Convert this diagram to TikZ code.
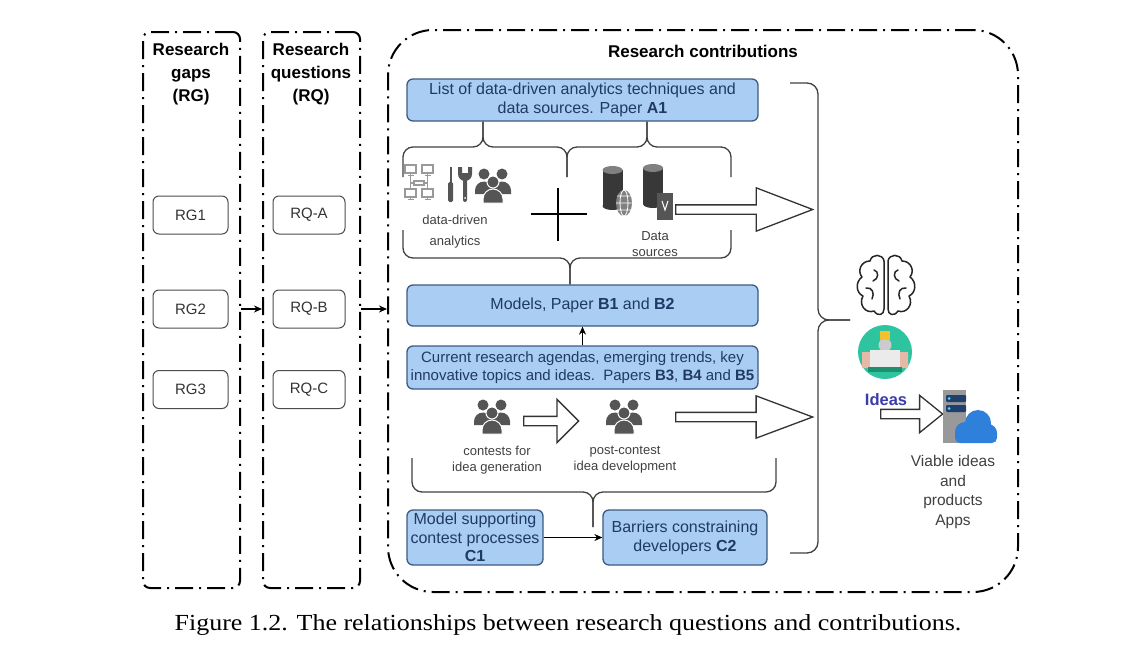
\documentclass[tikz,border=0pt]{standalone}
\usepackage{fontspec}
\setmainfont{Liberation Sans}
\newfontfamily\capfont{Liberation Serif}
\usetikzlibrary{arrows.meta,shapes.arrows,positioning}

\definecolor{boxblue}{HTML}{A9CDF3}
\definecolor{boxline}{HTML}{3D5A80}
\definecolor{boxtext}{HTML}{1F3A66}
\definecolor{icongray}{HTML}{555555}
\definecolor{ideateal}{HTML}{2EC4A0}
\definecolor{ideagreen}{HTML}{1E9070}
\definecolor{ideablue}{HTML}{3C3CA8}
\definecolor{bulbyellow}{HTML}{F5C02E}
\definecolor{skinpink}{HTML}{E6B8A8}
\definecolor{cloudblue}{HTML}{2F80DA}
\definecolor{slotblue}{HTML}{1F3F6F}
\definecolor{slotcyan}{HTML}{5ED3F3}

\tikzset{
  dashframe/.style={draw, line width=2pt, dash pattern=on 18pt off 6pt on 2pt off 6pt},
  gapbox/.style={draw=black!70, line width=1pt, rounded corners=6pt, minimum width=75pt,
    minimum height=38pt, font=\fontsize{15}{18}\selectfont, text=black!80},
  contrib/.style={draw=boxline, fill=boxblue, line width=1.3pt, rounded corners=6pt,
    text=boxtext, align=center, font=\fontsize{16}{19}\selectfont, inner sep=0pt},
  heading/.style={align=center, font=\bfseries\fontsize{17}{23}\selectfont},
  small/.style={align=center, font=\fontsize{13}{16}\selectfont, text=black!75},
  bracket/.style={draw=black!75, line width=1.3pt, rounded corners=10pt},
  hollow/.style={single arrow, draw=black!80, line width=1.3pt, fill=white,
    inner xsep=0pt, inner ysep=4pt, anchor=west},
  link/.style={-{Stealth[length=8pt,width=7pt]}, line width=1.2pt},
  network/.pic={
    \foreach \mx/\my in {-8.5/-12, 8.5/-12, -8.5/12, 8.5/12} {
      \draw[black!40, line width=1.1pt] (\mx-5.5,\my-6) rectangle (\mx+5.5,\my+2);
      \draw[black!40, line width=1.1pt] (\mx,\my+2) -- (\mx,\my+4) (\mx-3,\my+4.5) -- (\mx+3,\my+4.5);
    }
    \draw[black!40, line width=1.1pt] (-5,-2) rectangle (5,2);
    \draw[black!40, line width=1.1pt] (-8.5,-7) -- (-8.5,6) (8.5,-7) -- (8.5,6)
      (-8.5,0) -- (-5,0) (5,0) -- (8.5,0);
  },
  tools/.pic={
    \fill[icongray] (-10.5,-17) rectangle (-8.5,-2);
    \fill[icongray, rounded corners=1.5pt] (-12,-2) rectangle (-7,18);
    \fill[icongray] (-2,-17) -- (-2,-10) arc[start angle=180, end angle=0, radius=7]
      -- (12,-17) -- (8,-17) -- (8,-11) -- (2,-11) -- (2,-17) -- cycle;
    \fill[icongray, rounded corners=2pt] (3,-5) rectangle (7,18);
    \fill[white] (5,14) circle (1);
  },
  crowd/.pic={
    \foreach \px/\py in {-9/-10, 9/-10} {
      \fill[icongray] (\px,\py) circle (5.5);
      \fill[icongray] (\px-9,\py+20) -- (\px-9,\py+16.5) arc[start angle=180, end angle=360, radius=9]
        -- (\px+9,\py+20) -- cycle;
    }
    \fill[icongray, draw=white, line width=1pt] (0,-2) circle (6);
    \fill[icongray, draw=white, line width=1pt] (-10,19) -- (-10,15) arc[start angle=180, end angle=360, radius=10]
      -- (10,19) -- cycle;
  },
  database/.pic={
    \fill[black!78] (-10,-18) rectangle (10,18);
    \fill[black!78] (0,18) ellipse (10 and 4);
    \fill[black!50] (0,-18) ellipse (10 and 4);
  },
  lobe/.pic={
    \draw[black!85, line width=1.5pt, line join=round]
      (-2,-24) .. controls (-3,-31) and (-14,-32) .. (-16,-24)
      .. controls (-25,-24) and (-29,-14) .. (-24,-8)
      .. controls (-31,-3) and (-30,8) .. (-23,11)
      .. controls (-28,20) and (-20,29) .. (-12,26)
      .. controls (-8,32) and (-2,30) .. (-2,24) -- cycle;
    \draw[black!85, line width=1.5pt, line cap=round]
      (-12,-15) .. controls (-7,-14) and (-7,-6) .. (-13,-4)
      (-20,3) .. controls (-14,2) and (-11,8) .. (-14,14);
  }
}

\begin{document}
\begin{tikzpicture}[x=1pt, y=-1pt]
  \useasboundingbox (0,0) rectangle (1122,645);

  % frames
  \node[dashframe, rounded corners=7pt, minimum width=97pt, minimum height=556pt] (colrg) at (191.5,310) {};
  \node[dashframe, rounded corners=7pt, minimum width=97pt, minimum height=556pt] (colrq) at (311.5,310) {};
  \node[dashframe, rounded corners=45pt, minimum width=630pt, minimum height=562pt] (contrib) at (703,311) {};

  \node[heading] (rghead) at (191,74) {Research\\gaps\\(RG)};
  \node[heading] (rqhead) at (311,74) {Research\\questions\\(RQ)};
  \node[heading] (chead) at (703,51) {Research contributions};

  % gaps and questions
  \node[gapbox] (rg1) at (190.5,215) {RG1};
  \node[gapbox] (rg2) at (190.5,309) {RG2};
  \node[gapbox] (rg3) at (190.5,389.5) {RG3};
  \node[gapbox, minimum width=72pt] (rqa) at (309,215) {RQ-A};
  \node[gapbox, minimum width=72pt] (rqb) at (309,309) {RQ-B};
  \node[gapbox, minimum width=72pt] (rqc) at (309,389.5) {RQ-C};

  \draw[link] (colrg.east |- rg2) -- (colrq.west |- rg2);
  \draw[link] (colrq.east |- rqb) -- (contrib.west |- rqb);

  % contributions
  \node[contrib, minimum width=351pt, minimum height=42pt] (a1) at (582.5,100)
    {List of data-driven analytics techniques and\\data sources. Paper \textbf{A1}};
  \node[contrib, minimum width=351pt, minimum height=41pt] (b12) at (582.5,305.5)
    {Models, Paper \textbf{B1} and \textbf{B2}};
  \node[contrib, minimum width=351pt, minimum height=43pt, font=\fontsize{15}{18.5}\selectfont] (b345) at (582.5,367.5)
    {Current research agendas, emerging trends, key\\innovative topics and ideas.\ \ Papers \textbf{B3}, \textbf{B4} and \textbf{B5}};
  \node[contrib, minimum width=136pt, minimum height=55pt, font=\fontsize{16}{18.7}\selectfont] (c1) at (475,537.5)
    {Model supporting\\contest processes\\\textbf{C1}};
  \node[contrib, minimum width=164pt, minimum height=55pt] (c2) at (685,537.5)
    {Barriers constraining\\developers \textbf{C2}};

  \draw[link] (b345) -- (b12);
  \draw[link] (c1) -- (c2);

  % braces
  \draw[bracket] (403,177) -- (403,147) -- (483,147) -- (483,0 |- a1.south);
  \draw[bracket] (483,0 |- a1.south) -- (483,147) -- (567,147) -- (567,177);
  \draw[bracket] (567,177) -- (567,147) -- (647,147) -- (647,0 |- a1.south);
  \draw[bracket] (647,0 |- a1.south) -- (647,147) -- (731,147) -- (731,177);
  \draw[bracket] (403,230) -- (403,258) -- (570,258) -- (570,0 |- b12.north);
  \draw[bracket] (570,0 |- b12.north) -- (570,258) -- (731,258) -- (731,230);
  \coordinate (tipc) at (593,527);
  \draw[bracket] (412,458) -- (412,492) -- (593,492) -- (tipc);
  \draw[bracket] (tipc) -- (593,492) -- (776,492) -- (776,458);
  \coordinate (tipr) at (850,320);
  \draw[bracket, rounded corners=11pt] (790,83) -- (818,83) -- (818,320) -- (tipr);
  \draw[bracket, rounded corners=11pt] (tipr) -- (818,320) -- (818,553) -- (790,553);

  % data-driven analytics and data sources
  \pic at (419,183) {network};
  \pic at (460,184) {tools};
  \pic at (493,184) {crowd};
  \node[small, font=\fontsize{13}{21}\selectfont] (analytics) at (455,232) {data-driven\\analytics};
  \draw[line width=1.5pt] (531,214) -- (587,214) (558,188) -- (558,241);
  \pic at (612.5,188) {database};
  \pic at (653,186) {database};
  \fill[black!50] (624,203) ellipse (8 and 13);
  \draw[white, line width=0.8pt] (624,203) ellipse (4 and 13) (616,203) -- (632,203)
    (617,196) -- (631,196) (617,210) -- (631,210);
  \fill[icongray] (657,193) rectangle (673,220);
  \draw[white, line width=1pt] (662,201) -- (665,210) -- (668,201);
  \node[small] (sources) at (655,244) {Data\\sources};
  \node[hollow, minimum height=137pt, single arrow head extend=17pt, single arrow tip angle=42] (arrdata) at (675,209.5) {};

  % idea contests
  \pic at (492,415) {crowd};
  \pic at (624,415) {crowd};
  \node[small] (contests) at (497,460) {contests for\\idea generation};
  \node[small] (postcontest) at (625,460) {post-contest\\idea development};
  \node[hollow, minimum height=55pt, single arrow head extend=17pt, single arrow tip angle=90] (arrstep) at (523,421) {};
  \node[hollow, minimum height=137pt, single arrow head extend=16.5pt, single arrow tip angle=41] (arridea) at (675,417) {};

  % ideas and products
  \pic at (886,285) {lobe};
  \pic[xscale=-1] at (886,285) {lobe};
  \fill[ideateal] (885,352) circle (27);
  \fill[skinpink] (862,352) rectangle (870,368) (900,352) rectangle (908,368);
  \fill[black!20] (885,345) circle (6.5);
  \fill[bulbyellow] (880,331) rectangle (890,340);
  \fill[black!8] (870,350) rectangle (900,368);
  \fill[ideagreen] (868,367) rectangle (902,372);
  \node[font=\bfseries\fontsize{16.5}{19}\selectfont, text=ideablue] (ideas) at (886,400) {Ideas};
  \node[hollow, minimum height=62pt, single arrow head extend=14pt, single arrow tip angle=78] (arrapp) at (880,414) {};
  \fill[black!40] (943,390) rectangle (966,443);
  \fill[slotblue, rounded corners=1pt] (946,395) rectangle (966,402) (946,405) rectangle (966,412);
  \fill[slotcyan] (949,398.5) circle (1.5) (949,408.5) circle (1.5);
  \fill[cloudblue] (965,432) circle (10) (978,423) circle (13) (988,433) circle (9);
  \fill[cloudblue, rounded corners=5pt] (955,428) rectangle (997,443);
  \node[align=center, font=\fontsize{15.5}{19.5}\selectfont, text=black!75] (viable) at (953,492)
    {Viable ideas\\and\\products\\Apps};

  \node[font=\capfont\fontsize{23}{26}\selectfont, xscale=1.13, transform shape] (caption) at (568,625)
    {Figure 1.2. The relationships between research questions and contributions.};
\end{tikzpicture}
\end{document}
